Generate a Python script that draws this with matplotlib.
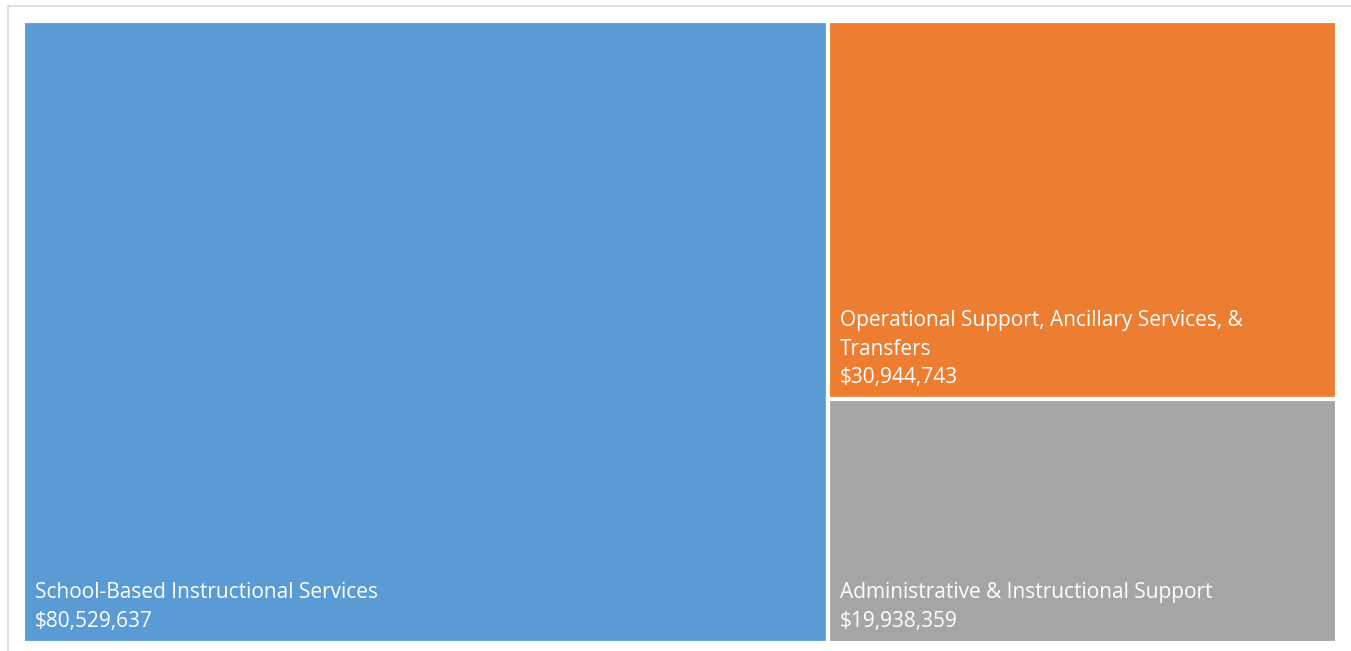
import matplotlib.pyplot as plt
from matplotlib.patches import Rectangle

# Budget categories and amounts
categories = [
    "School-Based Instructional Services",
    "Operational Support, Ancillary Services, &\nTransfers",
    "Administrative & Instructional Support",
]
amounts = [80529637, 30944743, 19938359]
colors = ["#5B9BD5", "#ED7D31", "#A5A5A5"]

W, H = 1351, 651
fig = plt.figure(figsize=(W / 100, H / 100), dpi=100)

# light frame around the chart area
fig.patches.append(Rectangle((8 / W, -0.1), 1.2, (H - 6) / H + 0.1,
                             transform=fig.transFigure, fill=False,
                             edgecolor="#D9D9D9", linewidth=1.2))

# axes padded by half the white edge width so fills reach the plot bounds
ax_w_px = 1314
ax_h_px = 622
ax = fig.add_axes([23 / W, (H - 643) / H, ax_w_px / W, ax_h_px / H])
ax.set_xlim(0, 1)
ax.set_ylim(0, 1)
ax.axis("off")

# slice layout: largest item takes a full-height column,
# the rest are stacked in the remaining column
total = sum(amounts)
w0 = amounts[0] / total
rest = sum(amounts[1:])
rects = [(0, 0, w0, 1)]
top = 1.0
for a in amounts[1:]:
    h = a / rest
    rects.append((w0, top - h, 1 - w0, h))
    top -= h

for (x, y, w, h), name, val, col in zip(rects, categories, amounts, colors):
    ax.add_patch(Rectangle((x, y), w, h, facecolor=col, edgecolor="white",
                           linewidth=3))
    ax.text(x + 12 / ax_w_px, y + 11 / ax_h_px, f"{name}\n${val:,.0f}",
            ha="left", va="bottom", color="white", fontsize=15,
            family="Open Sans", linespacing=1.47)

fig.savefig("out.png", dpi=100)
